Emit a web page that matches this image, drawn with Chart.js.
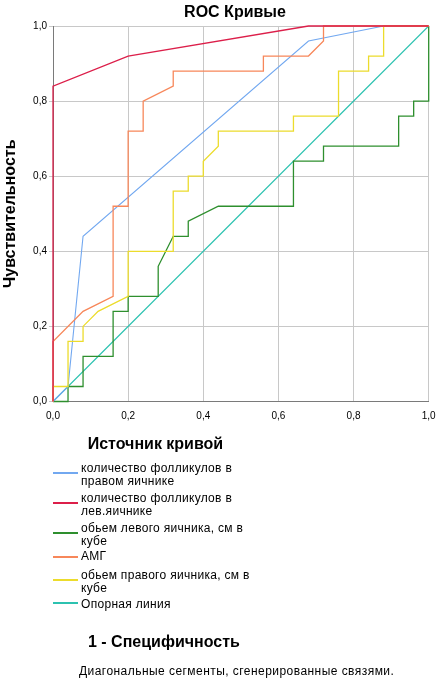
<!DOCTYPE html>
<html>
<head>
<meta charset="utf-8">
<script src="https://cdn.jsdelivr.net/npm/chart.js@4.4.1/dist/chart.umd.min.js"></script>
<style>
  html, body { margin:0; padding:0; background:#fff; width:439px; height:685px; overflow:hidden; }
  #wrap { position:relative; width:439px; height:685px; }
  canvas { position:absolute; left:0; top:0; }
  .t { position:absolute; white-space:nowrap; font-family:"Liberation Sans", Arial, sans-serif; color:#000; }
  .b { font-weight:bold; font-size:16px; line-height:20px; }
  .n { font-size:12px; line-height:13px; letter-spacing:0.3px; }
  .sw { position:absolute; width:25px; height:2px; }
</style>
</head>
<body>
<div id="wrap">
  <canvas id="c" width="439" height="685"></canvas>
  <div class="t b" id="title" style="left:0; width:470px; text-align:center; top:2px;">ROC Кривые</div>
  <div class="t b" style="left:87.7px; top:434px;">Источник кривой</div>
  <div id="legend"></div>
  <div class="t b" style="left:88px; top:631.7px;">1 - Специфичность</div>
  <div class="t n" style="left:79px; top:664.5px; letter-spacing:0.45px;">Диагональные сегменты, сгенерированные связями.</div>
</div>
<script>
// ---- data ----
const seriesNames = [
  ["количество фолликулов в", "правом яичнике"],
  ["количество фолликулов в", "лев.яичнике"],
  ["обьем левого яичника, см в", "кубе"],
  ["АМГ"],
  ["обьем правого яичника, см в", "кубе"],
  ["Опорная линия"]
];
const seriesColors = ['#72a8f0', '#dc1f4a', '#2e8f2e', '#f7875a', '#ecdc2c', '#2cc2b0'];

const blueX = [0, 0.04, 0.08, 0.68, 0.88, 1];
const blueY = [0, 0.04, 0.44, 0.96, 1, 1];

const redX = [0, 0, 0.2, 0.68, 1];
const redY = [0, 0.84, 0.92, 1, 1];

const greenX = [0, 0.04, 0.04, 0.08, 0.08, 0.16, 0.16, 0.2, 0.2, 0.28, 0.28, 0.32, 0.36, 0.36, 0.44, 0.64, 0.64, 0.72, 0.72, 0.92, 0.92, 0.96, 0.96, 1, 1];
const greenY = [0, 0, 0.04, 0.04, 0.12, 0.12, 0.24, 0.24, 0.28, 0.28, 0.36, 0.44, 0.44, 0.48, 0.52, 0.52, 0.64, 0.64, 0.68, 0.68, 0.76, 0.76, 0.80, 0.80, 1];

const orangeX = [0, 0, 0.08, 0.16, 0.16, 0.2, 0.2, 0.24, 0.24, 0.32, 0.32, 0.56, 0.56, 0.68, 0.72, 0.72, 1];
const orangeY = [0, 0.16, 0.24, 0.28, 0.52, 0.52, 0.72, 0.72, 0.80, 0.84, 0.88, 0.88, 0.92, 0.92, 0.96, 1, 1];

const yellowX = [0, 0, 0.04, 0.04, 0.08, 0.08, 0.12, 0.2, 0.2, 0.32, 0.32, 0.36, 0.36, 0.4, 0.4, 0.44, 0.44, 0.64, 0.64, 0.76, 0.76, 0.84, 0.84, 0.88, 0.88, 1];
const yellowY = [0, 0.04, 0.04, 0.16, 0.16, 0.20, 0.24, 0.28, 0.40, 0.40, 0.56, 0.56, 0.60, 0.60, 0.64, 0.68, 0.72, 0.72, 0.76, 0.76, 0.88, 0.88, 0.92, 0.92, 1, 1];

const refX = [0, 1];
const refY = [0, 1];

const tickLabels = ['0,0', '0,2', '0,4', '0,6', '0,8', '1,0'];

// ---- build ----
const seriesX = [blueX, redX, greenX, orangeX, yellowX, refX];
const seriesY = [blueY, redY, greenY, orangeY, yellowY, refY];
const widths = [1.1, 1.3, 1.3, 1.3, 1.3, 1.1];
const orders = [3, 0, 4, 1, 2, 5];

const datasets = seriesX.map((xs, i) => ({
  label: seriesNames[i].join(' '),
  data: xs.map((x, j) => ({ x: x, y: seriesY[i][j] })),
  borderColor: seriesColors[i],
  backgroundColor: seriesColors[i],
  borderWidth: widths[i],
  pointRadius: 0,
  showLine: true,
  tension: 0,
  fill: false,
  clip: 4,
  order: orders[i]
}));

const tickCb = function(v) {
  const idx = Math.round(v / 0.2);
  return tickLabels[idx];
};

new Chart(document.getElementById('c'), {
  type: 'scatter',
  data: { datasets: datasets },
  options: {
    responsive: false,
    animation: false,
    devicePixelRatio: 1,
    layout: { padding: { left: 0, right: 10.3, top: 26, bottom: 263.5 } },
    plugins: { legend: { display: false }, title: { display: false }, tooltip: { enabled: false } },
    scales: {
      x: {
        type: 'linear', min: 0, max: 1,
        afterFit: (s) => { s.height = 20; s.paddingLeft = 0; s.paddingRight = 0; },
        ticks: { stepSize: 0.2, callback: tickCb, color: '#000', padding: 9,
                 font: { family: '"Liberation Sans", Arial, sans-serif', size: 10 }, maxRotation: 0 },
        grid: { color: '#c8c8c8', lineWidth: 1, drawTicks: false },
        border: { color: '#7a7a7a', width: 1 }
      },
      y: {
        type: 'linear', min: 0, max: 1,
        afterFit: (s) => { s.width = 53; s.paddingTop = 0; s.paddingBottom = 0; },
        ticks: { stepSize: 0.2, callback: tickCb, color: '#000', padding: 2,
                 font: { family: '"Liberation Sans", Arial, sans-serif', size: 10 } },
        grid: { color: '#c8c8c8', lineWidth: 1, tickLength: 4 },
        border: { color: '#7a7a7a', width: 1 },
        title: { display: true, text: 'Чувствительность', color: '#000', padding: { top: 1, bottom: 0 },
                 font: { family: '"Liberation Sans", Arial, sans-serif', size: 16, weight: 'bold' } }
      }
    }
  }
});

// ---- legend (HTML) ----
const legendTops = [469.3, 499.3, 529.3, 557.2, 576, 605.3];
const swatchYs = [472.7, 502.7, 533.3, 556.7, 580, 603.3];
const leg = document.getElementById('legend');
seriesNames.forEach((lines, i) => {
  const sw = document.createElement('div');
  sw.className = 'sw';
  sw.style.left = '52.7px';
  sw.style.top = (swatchYs[i] - 1) + 'px';
  sw.style.background = seriesColors[i];
  leg.appendChild(sw);
  const tx = document.createElement('div');
  tx.className = 't n';
  tx.style.left = '81px';
  tx.style.top = (legendTops[i] - 7.5) + 'px';
  tx.innerHTML = lines.join('<br>');
  leg.appendChild(tx);
});
</script>
</body>
</html>
